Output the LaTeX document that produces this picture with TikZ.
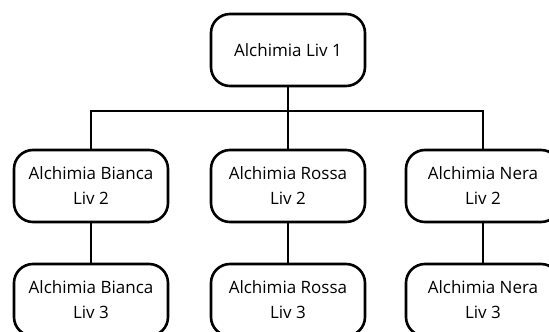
\documentclass[tikz,border=0pt]{standalone}
\usepackage{fontspec}
\setmainfont{Open Sans}
\begin{document}
\begin{tikzpicture}[x=1pt,y=-1pt,
  box/.style={draw=black,line width=2.6pt,rounded corners=19pt,fill=white,
    minimum width=154pt,minimum height=72pt,inner sep=2pt,align=center,
    font=\fontsize{17}{25}\selectfont},
  link/.style={draw=black,line width=2.6pt}]
\useasboundingbox (0,0) rectangle (549,332);
\clip (0,0) rectangle (549,332);
\node[box] (top) at (288,50) {Alchimia Liv 1};
\node[box] (b2) at (91,186) {Alchimia Bianca\\Liv 2};
\node[box] (r2) at (288,186) {Alchimia Rossa\\Liv 2};
\node[box] (n2) at (483,186) {Alchimia Nera\\Liv 2};
\node[box] (b3) at (91,300) {Alchimia Bianca\\Liv 3};
\node[box] (r3) at (288,300) {Alchimia Rossa\\Liv 3};
\node[box] (n3) at (483,300) {Alchimia Nera\\Liv 3};
\coordinate (bar) at (0,111);
\draw[link] (top.south) -- (top.south |- bar);
\draw[link] (b2.north) -- (b2.north |- bar) -- (n2.north |- bar) -- (n2.north);
\draw[link] (r2.north) -- (r2.north |- bar);
\draw[link] (b2.south) -- (b3.north);
\draw[link] (r2.south) -- (r3.north);
\draw[link] (n2.south) -- (n3.north);
\end{tikzpicture}
\end{document}
